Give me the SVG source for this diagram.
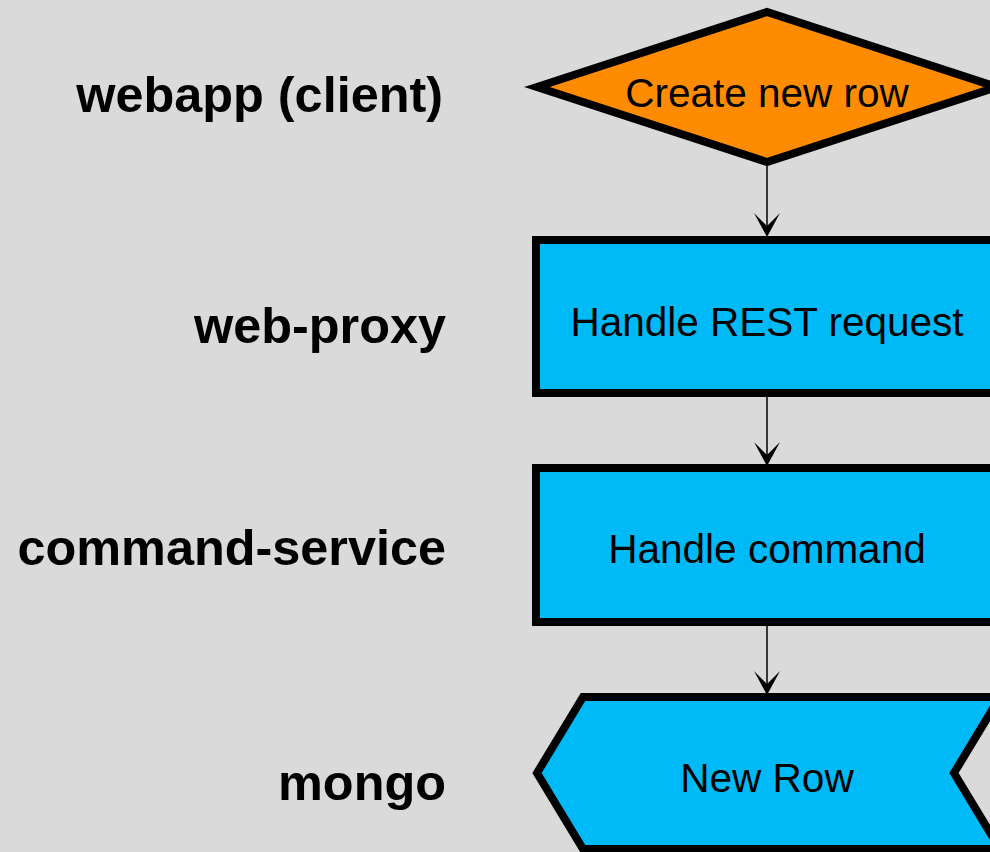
<svg xmlns="http://www.w3.org/2000/svg" width="990" height="852" viewBox="0 0 990 852">
  <style>
    .lane { font-family: "Liberation Sans", Arial, sans-serif; font-weight: bold; font-size: 50.4px; fill: #000; text-anchor: end; }
    .label { font-family: "Liberation Sans", Arial, sans-serif; font-size: 40.5px; fill: #000; text-anchor: middle; }
    .shape { stroke: #000; stroke-width: 8; stroke-linejoin: miter; }
    .edge { stroke: #000; stroke-width: 1.5; fill: none; }
    .head { fill: #000; }
  </style>

  <rect width="990" height="852" fill="#dadada"/>

  <!-- swimlane titles -->
  <g id="lanes">
    <text class="lane" x="443" y="112">webapp (client)</text>
    <text class="lane" x="446" y="343">web-proxy</text>
    <text class="lane" x="446" y="565">command-service</text>
    <text class="lane" x="446" y="800">mongo</text>
  </g>

  <!-- connectors -->
  <g id="connectors">
    <line class="edge" x1="767" y1="166" x2="767" y2="232"/>
    <path class="head" d="M767 237 L754 213 L767 226 L780 213 Z"/>
    <line class="edge" x1="767" y1="397" x2="767" y2="461"/>
    <path class="head" d="M767 466 L754 442 L767 455 L780 442 Z"/>
    <line class="edge" x1="767" y1="626" x2="767" y2="690"/>
    <path class="head" d="M767 695 L754 671 L767 684 L780 671 Z"/>
  </g>

  <g id="create-new-row">
    <polygon class="shape" points="537,87 767,12 997,87 767,162" fill="#ff8c00"/>
    <text class="label" x="767" y="107">Create new row</text>
  </g>

  <g id="handle-rest-request">
    <rect class="shape" x="536" y="240" width="462" height="153" fill="#00b9f7"/>
    <text class="label" x="767" y="336">Handle REST request</text>
  </g>

  <g id="handle-command">
    <rect class="shape" x="536" y="468" width="462" height="154" fill="#00b9f7"/>
    <text class="label" x="767" y="563">Handle command</text>
  </g>

  <g id="new-row">
    <polygon class="shape" points="583,697 1000,697 954,773 1000,849 583,849 537,773" fill="#00b9f7"/>
    <text class="label" x="767" y="792">New Row</text>
  </g>
</svg>
